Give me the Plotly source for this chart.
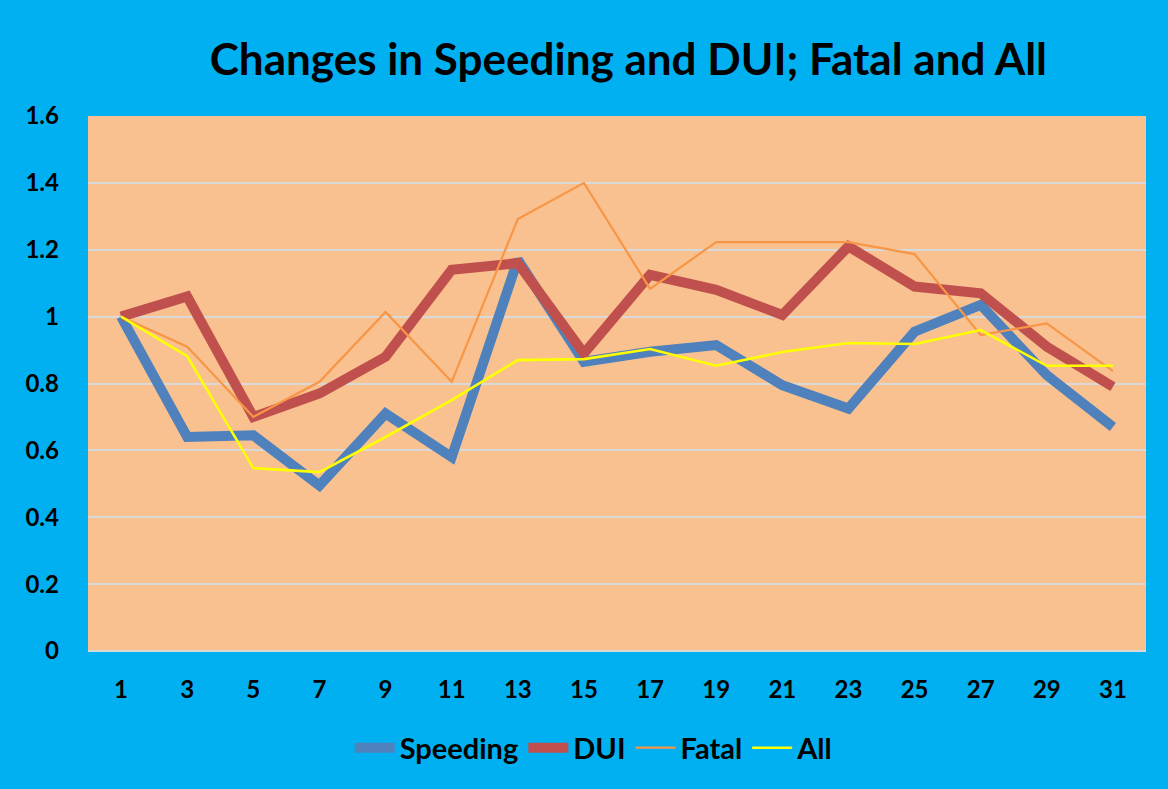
import plotly.graph_objects as go

# datos
periods = ["1", "3", "5", "7", "9", "11", "13", "15", "17", "19", "21", "23", "25", "27", "29", "31"]
speeding = [1.0, 0.64, 0.645, 0.495, 0.71, 0.58, 1.17, 0.865, 0.895, 0.915, 0.795, 0.725, 0.955, 1.035, 0.825, 0.67]
dui = [1.0, 1.06, 0.70, 0.77, 0.88, 1.14, 1.16, 0.89, 1.125, 1.08, 1.005, 1.21, 1.09, 1.07, 0.91, 0.79]
fatal = [1.0, 0.91, 0.70, 0.805, 1.014, 0.805, 1.292, 1.40, 1.083, 1.223, 1.223, 1.223, 1.187, 0.945, 0.98, 0.837]
all_crashes = [1.0, 0.882, 0.547, 0.535, 0.64, 0.75, 0.87, 0.873, 0.903, 0.853, 0.894, 0.921, 0.918, 0.96, 0.853, 0.853]

FONT = "Lato, Calibri, Arial, sans-serif"
BG_BLUE = "#00B0F0"
PLOT_BG = "#F9C18F"

series = [
    ("Speeding", speeding, "#4F81BD", 10),
    ("DUI", dui, "#C0504D", 10),
    ("Fatal", fatal, "#F79646", 2.2),
    ("All", all_crashes, "#FFFF00", 2.6),
]

fig = go.Figure()
for name, vals, color, width in series:
    fig.add_trace(
        go.Scatter(
            x=periods,
            y=vals,
            mode="lines",
            name=name,
            line=dict(color=color, width=width),
        )
    )

fig.update_layout(
    width=1168,
    height=789,
    paper_bgcolor=BG_BLUE,
    plot_bgcolor=PLOT_BG,
    margin=dict(l=88, r=22, t=116, b=138),
    font=dict(family=FONT, color="#000000"),
    title=dict(
        text="<b>Changes in Speeding and DUI; Fatal and All</b>",
        font=dict(family=FONT, size=44, color="#000000"),
        x=0.538,
        xanchor="center",
        y=0.924,
        yanchor="middle",
    ),
    legend=dict(
        orientation="h",
        x=0.478,
        xanchor="center",
        y=-0.181,
        yanchor="middle",
        font=dict(family=FONT, size=29, color="#000000", weight="bold"),
        bgcolor="rgba(0,0,0,0)",
        itemwidth=40,
        tracegroupgap=0,
    ),
)

fig.update_xaxes(
    type="category",
    range=[-0.5, 15.5],
    showgrid=False,
    zeroline=False,
    showline=False,
    ticks="",
    tickfont=dict(family=FONT, size=24, color="#000000", weight="bold"),
    ticklabelstandoff=22,
)
fig.update_yaxes(
    range=[0, 1.6],
    dtick=0.2,
    showgrid=True,
    gridcolor="#D9D9D9",
    gridwidth=1.5,
    zeroline=True,
    zerolinecolor="#D9D9D9",
    zerolinewidth=1.5,
    ticks="",
    tickfont=dict(family=FONT, size=24, color="#000000", weight="bold"),
    ticklabelstandoff=28,
)

# quitar el margen del body para que el grafico quede pegado a la esquina
fig.write_html(
    "out.html",
    config={"displayModeBar": False},
    post_script="document.body.style.margin='0';",
)
